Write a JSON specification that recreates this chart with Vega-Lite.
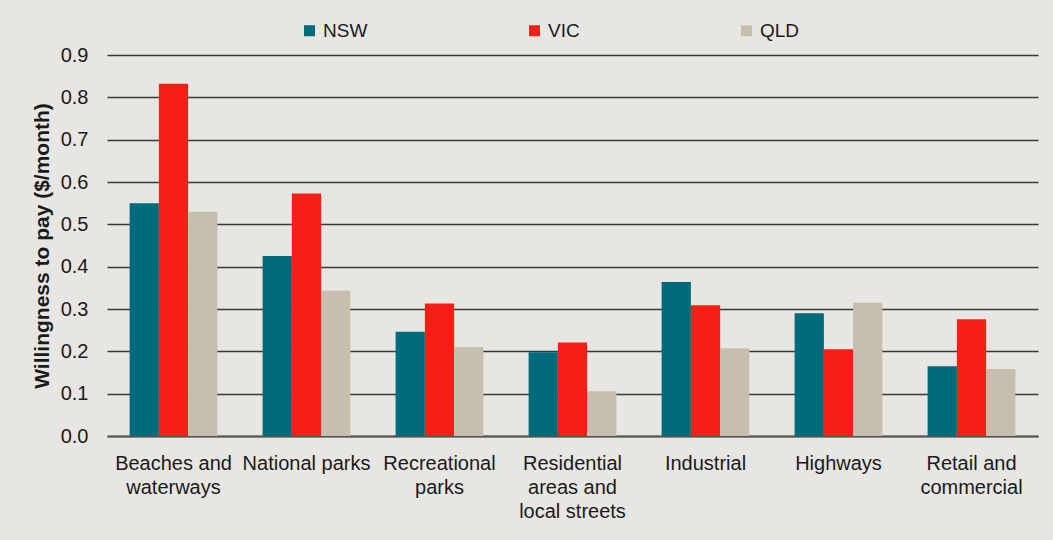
{
  "$schema": "https://vega.github.io/schema/vega-lite/v6.json",
  "autosize": {"type": "none"},
  "width": 931,
  "height": 381,
  "padding": {"left": 107, "top": 55, "right": 15, "bottom": 104},
  "background": "#e8e6e2",
  "config": {
    "view": {"stroke": null},
    "font": "Liberation Sans"
  },
  "data": {
    "values": [
      {"area": "Beaches and waterways", "state": "NSW", "wtp": 0.55},
      {"area": "Beaches and waterways", "state": "VIC", "wtp": 0.832},
      {"area": "Beaches and waterways", "state": "QLD", "wtp": 0.53},
      {"area": "National parks", "state": "NSW", "wtp": 0.425},
      {"area": "National parks", "state": "VIC", "wtp": 0.573},
      {"area": "National parks", "state": "QLD", "wtp": 0.343},
      {"area": "Recreational parks", "state": "NSW", "wtp": 0.246},
      {"area": "Recreational parks", "state": "VIC", "wtp": 0.313},
      {"area": "Recreational parks", "state": "QLD", "wtp": 0.21},
      {"area": "Residential areas and local streets", "state": "NSW", "wtp": 0.198},
      {"area": "Residential areas and local streets", "state": "VIC", "wtp": 0.221},
      {"area": "Residential areas and local streets", "state": "QLD", "wtp": 0.106},
      {"area": "Industrial", "state": "NSW", "wtp": 0.364},
      {"area": "Industrial", "state": "VIC", "wtp": 0.309},
      {"area": "Industrial", "state": "QLD", "wtp": 0.207},
      {"area": "Highways", "state": "NSW", "wtp": 0.29},
      {"area": "Highways", "state": "VIC", "wtp": 0.205},
      {"area": "Highways", "state": "QLD", "wtp": 0.315},
      {"area": "Retail and commercial", "state": "NSW", "wtp": 0.165},
      {"area": "Retail and commercial", "state": "VIC", "wtp": 0.276},
      {"area": "Retail and commercial", "state": "QLD", "wtp": 0.158}
    ]
  },
  "mark": {"type": "bar"},
  "encoding": {
    "x": {
      "field": "area",
      "type": "nominal",
      "sort": null,
      "scale": {"paddingInner": 0.34, "paddingOuter": 0.17},
      "axis": {
        "title": null,
        "labelAngle": 0,
        "labelFontSize": 20,
        "labelColor": "#1a1a1a",
        "labelPadding": 17,
        "labelLineHeight": 24,
        "labelLimit": 200,
        "ticks": false,
        "domainColor": "#555555",
        "domainWidth": 2,
        "labelExpr": "datum.value == 'Beaches and waterways' ? ['Beaches and', 'waterways'] : datum.value == 'Recreational parks' ? ['Recreational', 'parks'] : datum.value == 'Residential areas and local streets' ? ['Residential', 'areas and', 'local streets'] : datum.value == 'Retail and commercial' ? ['Retail and', 'commercial'] : datum.value"
      }
    },
    "xOffset": {"field": "state", "type": "nominal", "sort": ["NSW", "VIC", "QLD"]},
    "y": {
      "field": "wtp",
      "type": "quantitative",
      "scale": {"domain": [0, 0.9], "nice": false},
      "axis": {
        "title": "Willingness to pay ($/month)",
        "titleFontSize": 21,
        "titleFontWeight": "bold",
        "titleColor": "#1a1a1a",
        "titlePadding": 8,
        "values": [0, 0.1, 0.2, 0.3, 0.4, 0.5, 0.6, 0.7, 0.8, 0.9],
        "format": ".1f",
        "labelFontSize": 20,
        "labelColor": "#1a1a1a",
        "labelPadding": 19,
        "ticks": false,
        "domain": false,
        "grid": true,
        "gridColor": "#3a3a3a",
        "gridWidth": 1.4
      }
    },
    "color": {
      "field": "state",
      "type": "nominal",
      "sort": ["NSW", "VIC", "QLD"],
      "scale": {"domain": ["NSW", "VIC", "QLD"], "range": ["#006b7a", "#f61f16", "#c7bfad"]},
      "legend": {
        "title": null,
        "orient": "none",
        "direction": "horizontal",
        "legendX": 193,
        "legendY": -34,
        "columns": 3,
        "columnPadding": 157,
        "symbolType": "square",
        "symbolSize": 121,
        "symbolStrokeWidth": 0,
        "labelFontSize": 19,
        "labelColor": "#1a1a1a",
        "labelOffset": 4
      }
    }
  }
}
